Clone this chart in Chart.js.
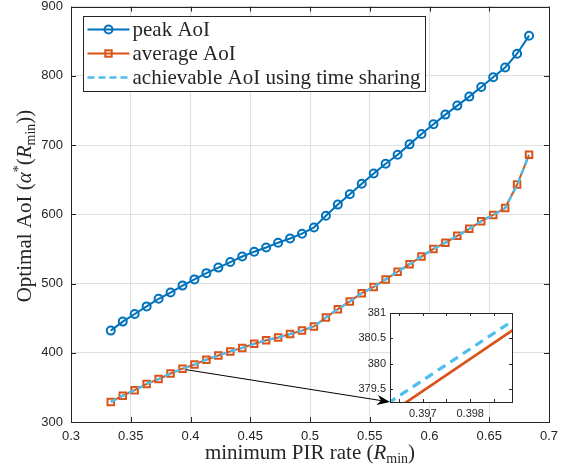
<!DOCTYPE html>
<html>
<head>
<meta charset="utf-8">
<script src="https://cdn.jsdelivr.net/npm/chart.js@4.4.1/dist/chart.umd.min.js"></script>
<style>
  html, body { margin: 0; padding: 0; background: #fff; }
  #wrap { position: relative; width: 570px; height: 474px; }
  #main { position: absolute; left: 0; top: 0; width: 570px; height: 474px; }
  #inset { position: absolute; left: 350px; top: 307px; width: 170px; height: 125px; }
</style>
</head>
<body>
<div id="wrap">
  <div id="main"><canvas id="mainChart"></canvas></div>
  <div id="inset"><canvas id="insetChart"></canvas></div>
</div>
<script>
// values
var rateValues = [0.3333, 0.3433, 0.3533, 0.3633, 0.3733, 0.3833, 0.3933, 0.4033, 0.4133, 0.4233,
                  0.4333, 0.4433, 0.4533, 0.4633, 0.4733, 0.4833, 0.4933, 0.5033, 0.5133, 0.5233,
                  0.5333, 0.5433, 0.5533, 0.5633, 0.5733, 0.5833, 0.5933, 0.6033, 0.6133, 0.6233,
                  0.6333, 0.6433, 0.6533, 0.6633, 0.6733, 0.6833];
var peakAoI = [432, 445, 456, 467, 478, 487, 497, 506, 515, 523,
               531, 539, 546, 552, 559, 565, 572, 581, 598, 614,
               629, 644, 659, 673, 686, 701, 716, 730, 744, 757,
               770, 784, 798, 812, 832, 858];
var averageAoI = [329, 338, 346, 355, 362, 370, 377, 383, 390, 396,
                  402, 407, 413, 418, 422, 427, 432, 438, 451, 463,
                  474, 486, 495, 506, 517, 528, 539, 550, 559, 569,
                  579, 590, 599, 609, 643, 686];
var achievableAoI = [329, 338, 346, 355, 362, 370, 377, 383, 390, 396,
                     402, 407, 413, 418, 422, 427, 432, 438, 451, 463,
                     474, 486, 495, 506, 517, 528, 539, 550, 559, 569,
                     579, 590, 599, 609, 642, 686];
var seriesNames = ['peak AoI', 'average AoI', 'achievable AoI using time sharing'];
var xTicks = [0.3, 0.35, 0.4, 0.45, 0.5, 0.55, 0.6, 0.65, 0.7];
var yTicks = [300, 400, 500, 600, 700, 800, 900];

// zoomed-in window
var insetRate = [0.3960, 0.3990];
var insetAverage = [378.82, 380.73];
var insetAchievable = [379.05, 380.91];
var insetXTicks = [0.3965, 0.397, 0.3975, 0.398, 0.3985];
var insetXLabels = [0.397, 0.398];
var insetYTicks = [379.5, 380, 380.5, 381];
var arrowFrom = [0.3966, 375.5];

var BLUE = '#0072BD', ORANGE = '#D95319', CYAN = '#4DBEEE', AXIS = '#262626';
var SERIF = '"Liberation Serif", "Times New Roman", serif';
var SANS = '"Liberation Sans", Arial, sans-serif';

function pts(xs, ys) {
  return xs.map(function (x, i) { return { x: x, y: ys[i] }; });
}

function noOverflow(s) {
  s.paddingTop = 0; s.paddingBottom = 0; s.paddingLeft = 0; s.paddingRight = 0;
}

function drawRich(ctx, parts, x, y, rotate) {
  var w = 0;
  parts.forEach(function (p) { ctx.font = p[1]; w += ctx.measureText(p[0]).width; });
  ctx.save();
  ctx.translate(x, y);
  if (rotate) ctx.rotate(-Math.PI / 2);
  ctx.textAlign = 'left';
  ctx.textBaseline = 'alphabetic';
  ctx.fillStyle = AXIS;
  var cx = -w / 2;
  parts.forEach(function (p) {
    ctx.font = p[1];
    ctx.fillText(p[0], cx, p[2] || 0);
    cx += ctx.measureText(p[0]).width;
  });
  ctx.restore();
}

function inwardTicks(ctx, chart, len) {
  var a = chart.chartArea, xs = chart.scales.x, ys = chart.scales.y;
  ctx.save();
  ctx.strokeStyle = AXIS;
  ctx.lineWidth = 1;
  ctx.beginPath();
  xs.ticks.forEach(function (t) {
    var p = Math.round(xs.getPixelForValue(t.value)) + 0.5;
    ctx.moveTo(p, a.bottom); ctx.lineTo(p, a.bottom - len);
    ctx.moveTo(p, a.top); ctx.lineTo(p, a.top + len);
  });
  ys.ticks.forEach(function (t) {
    var p = Math.round(ys.getPixelForValue(t.value)) + 0.5;
    ctx.moveTo(a.left, p); ctx.lineTo(a.left + len, p);
    ctx.moveTo(a.right, p); ctx.lineTo(a.right - len, p);
  });
  ctx.stroke();
  ctx.strokeRect(Math.round(a.left) + 0.5, Math.round(a.top) + 0.5,
                 Math.round(a.right - a.left), Math.round(a.bottom - a.top));
  ctx.restore();
}

var mainDecor = {
  id: 'mainDecor',
  afterDraw: function (chart) {
    var ctx = chart.ctx, a = chart.chartArea;
    inwardTicks(ctx, chart, 5);

    // axis titles
    var f = '21px ' + SERIF, fi = 'italic 21px ' + SERIF, fs = '14px ' + SERIF;
    drawRich(ctx, [['minimum PIR rate (', f], ['R', fi], ['min', fs, 4], [')', f]],
             (a.left + a.right) / 2, 459, false);
    drawRich(ctx, [['Optimal AoI (', f], ['\u03b1', fi], ['*', fs, -8], ['(', f], ['R', fi],
                   ['min', fs, 4], ['))', f]], 31, 206, true);

    // legend
    var lf = '21px ' + SERIF;
    ctx.save();
    ctx.font = lf;
    var tw = 0;
    seriesNames.forEach(function (n) { tw = Math.max(tw, ctx.measureText(n).width); });
    var bx = Math.round(a.left + 12) + 0.5, by = Math.round(a.top + 9) + 0.5;
    var bw = Math.round(49 + tw + 5), bh = 75;
    ctx.fillStyle = '#fff';
    ctx.fillRect(bx, by, bw, bh);
    ctx.strokeStyle = AXIS;
    ctx.lineWidth = 1;
    ctx.strokeRect(bx, by, bw, bh);
    var rows = [by + 13, by + 37, by + 61];
    var x0 = bx + 4, x1 = bx + 46, xm = (x0 + x1) / 2;
    // peak
    ctx.strokeStyle = BLUE; ctx.lineWidth = 2;
    ctx.beginPath(); ctx.moveTo(x0, rows[0]); ctx.lineTo(x1, rows[0]); ctx.stroke();
    ctx.beginPath(); ctx.arc(xm, rows[0], 4, 0, Math.PI * 2); ctx.stroke();
    // average
    ctx.strokeStyle = ORANGE;
    ctx.beginPath(); ctx.moveTo(x0, rows[1]); ctx.lineTo(x1, rows[1]); ctx.stroke();
    ctx.strokeRect(xm - 3.2, rows[1] - 3.2, 6.4, 6.4);
    // achievable
    ctx.strokeStyle = CYAN; ctx.lineWidth = 2.5; ctx.setLineDash([7, 4]);
    ctx.beginPath(); ctx.moveTo(x0, rows[2]); ctx.lineTo(x1, rows[2]); ctx.stroke();
    ctx.setLineDash([]);
    ctx.fillStyle = AXIS; ctx.font = lf; ctx.textBaseline = 'middle'; ctx.textAlign = 'left';
    seriesNames.forEach(function (n, i) { ctx.fillText(n, bx + 49, rows[i] + 1); });
    ctx.restore();

    // arrow towards the inset corner
    var sx = chart.scales.x.getPixelForValue(arrowFrom[0]);
    var sy = chart.scales.y.getPixelForValue(arrowFrom[1]);
    var ex = 390, ey = 402;
    var ang = Math.atan2(ey - sy, ex - sx);
    ctx.save();
    ctx.strokeStyle = '#000'; ctx.fillStyle = '#000'; ctx.lineWidth = 1;
    ctx.beginPath(); ctx.moveTo(sx, sy);
    ctx.lineTo(ex - 8 * Math.cos(ang), ey - 8 * Math.sin(ang)); ctx.stroke();
    ctx.translate(ex, ey); ctx.rotate(ang);
    ctx.beginPath();
    ctx.moveTo(0, 0); ctx.lineTo(-13, -5); ctx.lineTo(-9, 0); ctx.lineTo(-13, 5); ctx.closePath();
    ctx.fill();
    ctx.restore();
  }
};

new Chart(document.getElementById('mainChart').getContext('2d'), {
  type: 'line',
  data: {
    datasets: [{
      label: seriesNames[2],
      data: pts(rateValues, achievableAoI),
      borderColor: CYAN,
      borderWidth: 2.5,
      borderDash: [6, 4],
      pointRadius: 0,
      order: 0
    }, {
      label: seriesNames[1],
      data: pts(rateValues, averageAoI),
      borderColor: ORANGE,
      borderWidth: 2,
      pointStyle: 'rect',
      pointRadius: 4.6,
      pointBorderWidth: 2,
      pointBorderColor: ORANGE,
      pointBackgroundColor: 'rgba(0,0,0,0)',
      order: 1
    }, {
      label: seriesNames[0],
      data: pts(rateValues, peakAoI),
      borderColor: BLUE,
      borderWidth: 2,
      pointStyle: 'circle',
      pointRadius: 4,
      pointBorderWidth: 2,
      pointBorderColor: BLUE,
      pointBackgroundColor: 'rgba(0,0,0,0)',
      order: 2
    }]
  },
  options: {
    responsive: true,
    maintainAspectRatio: false,
    animation: false,
    events: [],
    layout: { padding: { top: 5, right: 21, left: 0, bottom: 0 } },
    plugins: { legend: { display: false }, tooltip: { enabled: false } },
    scales: {
      x: {
        type: 'linear', min: 0.3, max: 0.7,
        afterBuildTicks: function (s) { s.ticks = xTicks.map(function (v) { return { value: v }; }); },
        afterFit: function (s) { s.height = 52; noOverflow(s); },
        grid: { color: '#dfdfdf', drawTicks: false },
        border: { display: false },
        ticks: {
          padding: 7, color: AXIS, font: { family: SANS, size: 13 },
          maxRotation: 0,
          callback: function (v) { return String(+v.toFixed(2)); }
        }
      },
      y: {
        type: 'linear', min: 300, max: 900,
        afterBuildTicks: function (s) { s.ticks = yTicks.map(function (v) { return { value: v }; }); },
        afterFit: function (s) { s.width = 71; noOverflow(s); },
        grid: { color: '#dfdfdf', drawTicks: false },
        border: { display: false },
        ticks: { padding: 8, color: AXIS, font: { family: SANS, size: 13 } }
      }
    }
  },
  plugins: [mainDecor]
});

var insetDecor = {
  id: 'insetDecor',
  beforeDraw: function (chart) {
    var a = chart.chartArea, ctx = chart.ctx;
    ctx.save();
    ctx.fillStyle = '#fff';
    ctx.fillRect(a.left, a.top, a.right - a.left, a.bottom - a.top);
    ctx.restore();
  },
  afterDraw: function (chart) { inwardTicks(chart.ctx, chart, 3); }
};

new Chart(document.getElementById('insetChart').getContext('2d'), {
  type: 'line',
  data: {
    datasets: [{
      data: pts(insetRate, insetAchievable),
      borderColor: CYAN, borderWidth: 3.2, borderDash: [9, 6],
      pointRadius: 0, clip: 0, order: 0
    }, {
      data: pts(insetRate, insetAverage),
      borderColor: ORANGE, borderWidth: 2.7,
      pointRadius: 0, clip: 0, order: 1
    }]
  },
  options: {
    responsive: true,
    maintainAspectRatio: false,
    animation: false,
    events: [],
    layout: { padding: { top: 6, right: 8, left: 0, bottom: 0 } },
    plugins: { legend: { display: false }, tooltip: { enabled: false } },
    scales: {
      x: {
        type: 'linear', min: 0.39631, max: 0.39888,
        afterBuildTicks: function (s) { s.ticks = insetXTicks.map(function (v) { return { value: v }; }); },
        afterFit: function (s) { s.height = 30; noOverflow(s); },
        grid: { display: false, drawTicks: false },
        border: { display: false },
        ticks: {
          padding: 5, color: AXIS, font: { family: SANS, size: 11 }, maxRotation: 0, autoSkip: false,
          callback: function (v) {
            var hit = insetXLabels.some(function (l) { return Math.abs(l - v) < 1e-7; });
            return hit ? v.toFixed(3) : '';
          }
        }
      },
      y: {
        type: 'linear', min: 379.24, max: 381,
        afterBuildTicks: function (s) { s.ticks = insetYTicks.map(function (v) { return { value: v }; }); },
        afterFit: function (s) { s.width = 40; noOverflow(s); },
        grid: { display: false, drawTicks: false },
        border: { display: false },
        ticks: {
          padding: 4, color: AXIS, font: { family: SANS, size: 11 }, autoSkip: false,
          callback: function (v) { return String(+v.toFixed(1)); }
        }
      }
    }
  },
  plugins: [insetDecor]
});
</script>
</body>
</html>
